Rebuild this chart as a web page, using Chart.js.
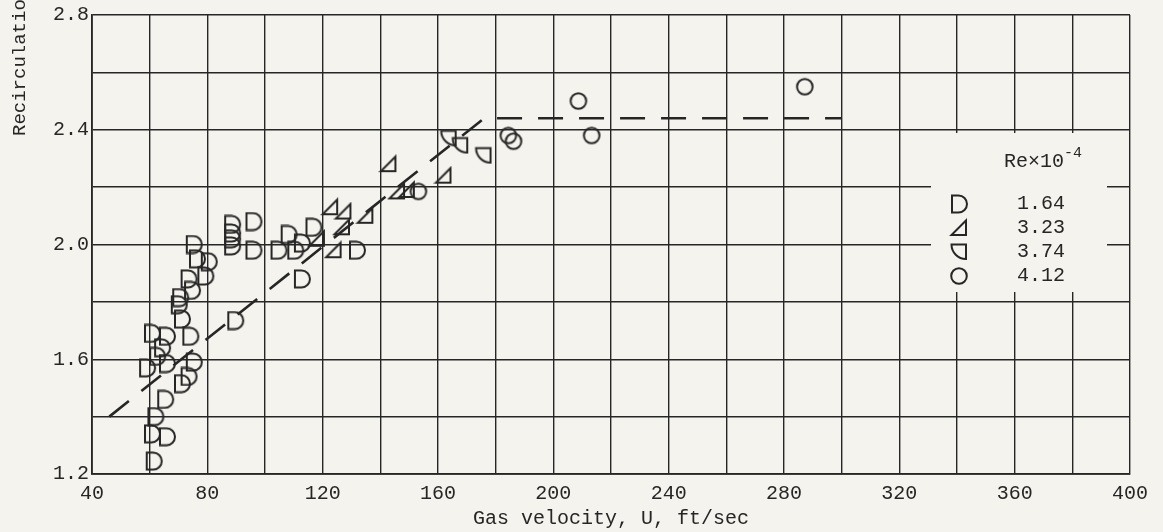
<!DOCTYPE html>
<html>
<head>
<meta charset="utf-8">
<script src="https://cdn.jsdelivr.net/npm/chart.js@4"></script>
<style>
  html, body { margin: 0; padding: 0; background: #f5f3ee; }
  #wrap { width: 1163px; height: 532px; position: relative; }
</style>
</head>
<body>
<div id="wrap"><canvas id="chart"></canvas></div>
<script>
// Re x 10^-4 = 1.64
const re164U = [75.3, 76.4, 80.5, 73.5, 79.3, 74.7, 70.6, 70.1, 71.2, 60.8, 66.0, 74.1, 64.3, 62.6, 59.1, 66.0, 75.3, 73.5, 71.2, 65.4, 62.0, 60.8, 66.0, 61.4, 89.7, 88.6, 88.6, 88.6, 88.6, 96.0, 96.0, 104.7, 108.2, 110.5, 112.8, 116.8, 112.8, 131.9]
const re164R = [2.00, 1.95, 1.94, 1.88, 1.89, 1.84, 1.815, 1.79, 1.74, 1.69, 1.68, 1.68, 1.64, 1.61, 1.57, 1.585, 1.59, 1.54, 1.515, 1.46, 1.40, 1.34, 1.33, 1.245, 1.735, 2.07, 2.04, 2.02, 1.995, 2.08, 1.98, 1.98, 2.035, 1.98, 2.005, 2.06, 1.88, 1.98]
// Re x 10^-4 = 3.23
const re323U = [118.0, 123.8, 122.6, 127.2, 126.7, 134.8, 142.8, 145.8, 149.2, 161.9]
const re323R = [2.02, 1.98, 2.13, 2.115, 2.06, 2.10, 2.28, 2.185, 2.19, 2.24]
// Re x 10^-4 = 3.74
const re374U = [163.7, 167.7, 175.8]
const re374R = [2.37, 2.345, 2.31]
// Re x 10^-4 = 4.12
const re412U = [153.2, 184.4, 186.2, 208.7, 213.3, 287.2]
const re412R = [2.185, 2.38, 2.36, 2.50, 2.38, 2.55]

// faired curve
const curveU = [46, 176, 300]
const curveR = [1.40, 2.44, 2.44]

const legendLabels = ["1.64", "3.23", "3.74", "4.12"]

const INK = "#262626"
const PAPER = "#f5f3ee"
const FONT = "'Liberation Mono', 'DejaVu Sans Mono', monospace"

// small canvases used as point styles
function makeMarker(draw) {
  const c = document.createElement("canvas")
  c.width = 20
  c.height = 20
  const g = c.getContext("2d")
  g.strokeStyle = INK
  g.lineWidth = 2
  g.beginPath()
  draw(g)
  g.stroke()
  return c
}

const dMark = makeMarker((g) => {
  g.moveTo(3, 1.5)
  g.lineTo(9.5, 1.5)
  g.arc(9.5, 10, 8.5, -Math.PI / 2, Math.PI / 2)
  g.lineTo(3, 18.5)
  g.closePath()
})

const triMark = makeMarker((g) => {
  g.moveTo(2.5, 17)
  g.lineTo(17, 17)
  g.lineTo(17, 2.5)
  g.closePath()
})

const sectorMark = makeMarker((g) => {
  g.moveTo(2.5, 2.5)
  g.lineTo(17, 2.5)
  g.lineTo(17, 17)
  g.arc(17, 2.5, 14.5, Math.PI / 2, Math.PI)
  g.closePath()
})

const circleMark = makeMarker((g) => {
  g.arc(10, 10, 7.8, 0, Math.PI * 2)
})

const legendMarks = [dMark, triMark, sectorMark, circleMark]

function toPoints(xs, ys) {
  return xs.map((x, i) => ({ x: x, y: ys[i] }))
}

// paper background
const paperBg = {
  id: "paperBg",
  beforeDraw(chart) {
    const ctx = chart.ctx
    ctx.save()
    ctx.fillStyle = PAPER
    ctx.fillRect(0, 0, chart.width, chart.height)
    ctx.restore()
  },
}

// rotated y axis title and the Re key box
const annotations = {
  id: "annotations",
  afterDraw(chart) {
    const ctx = chart.ctx
    ctx.save()
    ctx.fillStyle = INK
    ctx.font = "19px " + FONT
    ctx.translate(20, 136)
    ctx.rotate(-Math.PI / 2)
    ctx.textAlign = "left"
    ctx.textBaseline = "middle"
    ctx.fillText("Recirculation ratio", 0, 0)
    ctx.restore()

    ctx.save()
    ctx.fillStyle = PAPER
    ctx.fillRect(931, 133, 176, 159)
    ctx.fillStyle = INK
    ctx.textBaseline = "middle"
    ctx.textAlign = "left"
    ctx.font = "20px " + FONT
    ctx.fillText("Re×10", 1004, 162)
    ctx.font = "15px " + FONT
    ctx.fillText("-4", 1064, 153)
    ctx.font = "20px " + FONT
    const rows = [204, 228, 252, 276]
    legendLabels.forEach((label, i) => {
      ctx.drawImage(legendMarks[i], 959 - 10, rows[i] - 10)
      ctx.fillText(label, 1017, rows[i])
    })
    ctx.restore()
  },
}

function markerSet(label, xs, ys, mark) {
  return {
    label: label,
    data: toPoints(xs, ys),
    pointStyle: mark,
    pointRadius: 10,
    borderColor: INK,
    backgroundColor: "transparent",
    showLine: false,
  }
}

new Chart(document.getElementById("chart"), {
  type: "scatter",
  data: {
    datasets: [
      {
        label: "curve",
        data: toPoints(curveU, curveR),
        showLine: true,
        borderColor: INK,
        borderWidth: 2.6,
        borderDash: [25, 16],
        pointRadius: 0,
        fill: false,
      },
      markerSet("1.64", re164U, re164R, dMark),
      markerSet("3.23", re323U, re323R, triMark),
      markerSet("3.74", re374U, re374R, sectorMark),
      markerSet("4.12", re412U, re412R, circleMark),
    ],
  },
  options: {
    responsive: true,
    maintainAspectRatio: false,
    animation: false,
    layout: { padding: { top: 13, right: 33, left: 0, bottom: 0 } },
    plugins: {
      legend: { display: false },
      tooltip: { enabled: false },
    },
    scales: {
      x: {
        type: "linear",
        min: 40,
        max: 400,
        afterFit: (scale) => { scale.height = 58 },
        grid: { color: INK, lineWidth: 1.4, drawTicks: false },
        border: { color: INK, width: 1.8 },
        ticks: {
          stepSize: 20,
          autoSkip: false,
          maxRotation: 0,
          padding: 8,
          color: INK,
          font: { family: FONT, size: 20 },
          callback: (v) => (v % 40 === 0 ? String(v) : ""),
        },
        title: {
          display: true,
          text: "Gas velocity, U, ft/sec",
          color: INK,
          font: { family: FONT, size: 20 },
          padding: { top: 0, bottom: 1 },
        },
      },
      y: {
        type: "linear",
        min: 1.2,
        max: 2.8,
        afterFit: (scale) => { scale.width = 92 },
        grid: { color: INK, lineWidth: 1.4, drawTicks: false },
        border: { color: INK, width: 1.8 },
        ticks: {
          stepSize: 0.2,
          autoSkip: false,
          padding: 3,
          color: INK,
          font: { family: FONT, size: 20 },
          callback: (v) => (Math.round(v * 10) % 4 === 0 ? v.toFixed(1) : ""),
        },
      },
    },
  },
  plugins: [paperBg, annotations],
})
</script>
</body>
</html>
